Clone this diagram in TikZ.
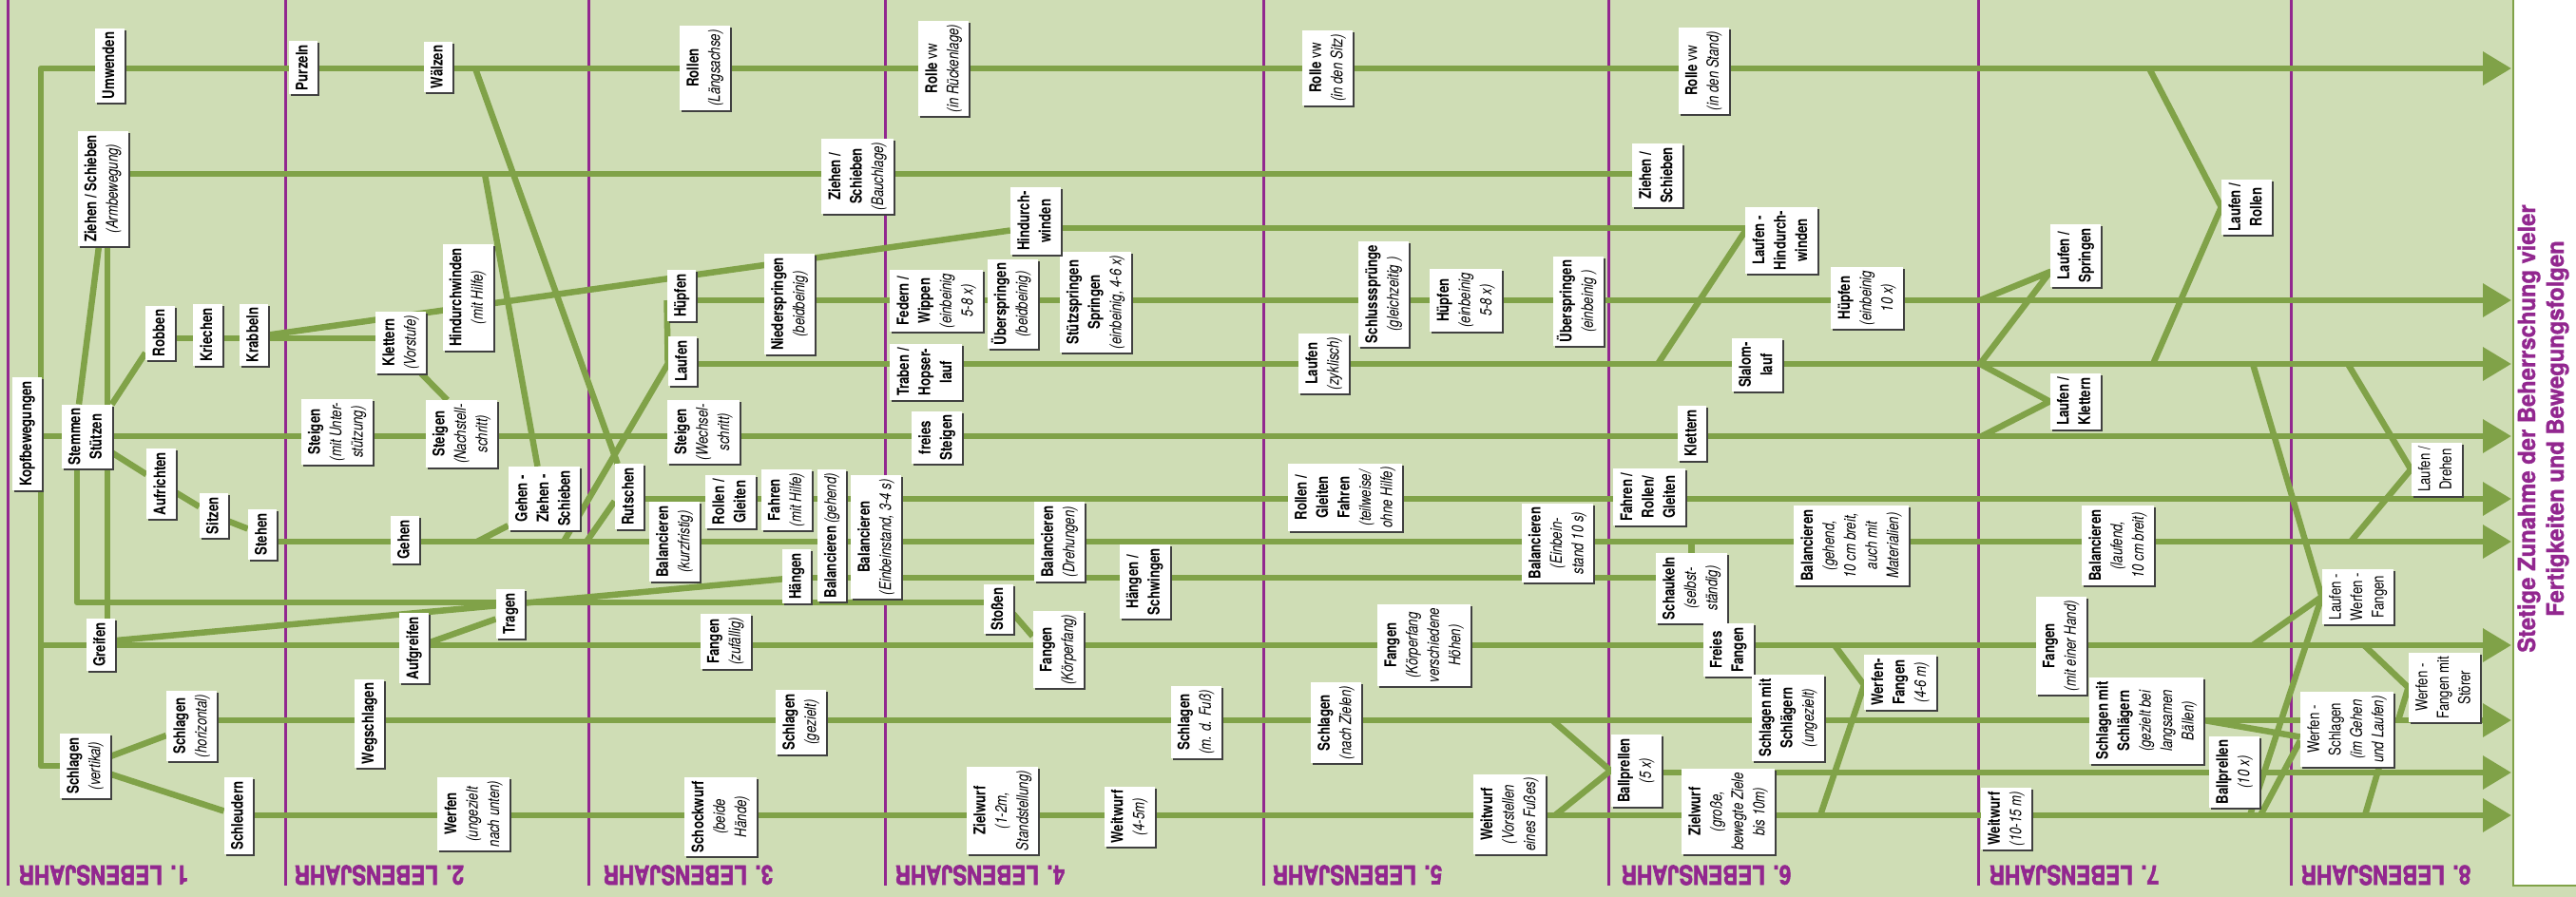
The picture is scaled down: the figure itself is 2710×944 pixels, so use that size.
\documentclass[tikz,border=0pt]{standalone}
\usepackage{fontspec}
\setmainfont{TeX Gyre Heros}[FakeStretch=0.78]
\newfontfamily\titlefont{TeX Gyre Heros}[FakeStretch=0.95,FakeBold=1.2]
\newfontfamily\yrfont{TeX Gyre Heros}[FakeStretch=0.8,FakeBold=2]
\usepackage{graphicx}
\usetikzlibrary{arrows.meta,shadows}
\definecolor{bgg}{RGB}{207,221,181}
\definecolor{lg}{RGB}{128,162,72}
\definecolor{pur}{RGB}{146,39,143}
\pgfdeclarelayer{bg}
\pgfdeclarelayer{ln}
\pgfsetlayers{bg,ln,main}
\def\kb#1{\textbf{#1}}
\def\ki#1{\textit{#1}}
\def\kbx#1{\rotatebox{90}{\begin{tabular}{@{}c@{}}#1\end{tabular}}}
\tikzset{
 box/.style={fill=white, inner xsep=4pt, inner ysep=4pt, font=\fontsize{17}{22.5}\selectfont,
   drop shadow={shadow xshift=2pt, shadow yshift=-2pt, opacity=1, fill=black!75}},
 gl/.style={draw=lg, line width=6.5pt, line join=round},
 arr/.style={gl, -{Triangle[length=30pt,width=34pt]}},
 yr/.style={text=pur, font=\yrfont\fontsize{28}{30}\selectfont\bfseries, rotate=180, inner sep=0pt},
 ttl/.style={text=pur, font=\titlefont\fontsize{25}{30}\selectfont\bfseries, inner sep=0pt},
 sep/.style={draw=pur, line width=3pt}
}
\begin{document}
\begin{tikzpicture}[x=1pt,y=-1pt]
\useasboundingbox (0,0) rectangle (2710,944);
\begin{pgfonlayer}{bg}
\fill[bgg] (0,0) rectangle (2710,944);
\filldraw[fill=white,draw=lg,line width=2pt] (2644,-3) rectangle (2713,932);
\foreach \x in {8,300,619,931,1329,1692,2081,2410} \draw[sep] (\x,0) -- (\x,932);
\end{pgfonlayer}

% helper coordinates
\coordinate (yA) at (0,72);
\coordinate (yB) at (0,183);
\coordinate (yC) at (0,240);
\coordinate (yD) at (0,316);
\coordinate (yE) at (0,383);
\coordinate (yR) at (0,356);
\coordinate (yG) at (0,525);
\coordinate (yH) at (0,570);
\coordinate (yI) at (0,608);
\coordinate (yL) at (0,758);
\coordinate (yM) at (0,813);
\coordinate (yN) at (0,858);
\coordinate (c0) at (43,72);
\coordinate (cV) at (43,806);
\coordinate (cF) at (43,459);
\coordinate (cK) at (43,679);
\coordinate (cJ) at (81,634);
\coordinate (tA) at (2642,72);
\coordinate (tD) at (2642,316);
\coordinate (tE) at (2642,383);
\coordinate (tF) at (2642,459);
\coordinate (tG) at (2642,525);
\coordinate (tH) at (2642,570);
\coordinate (tK) at (2642,679);
\coordinate (tL) at (2642,758);
\coordinate (tM) at (2642,813);
\coordinate (tN) at (2642,858);
\coordinate (wj) at (500,72);
\coordinate (bj) at (510,183);
\coordinate (gj) at (502,570);
\coordinate (lh) at (593,570);
\coordinate (c617) at (617,570);
\coordinate (c5L) at (1633,758);
\coordinate (c5N) at (1636,858);
\coordinate (c6E) at (1744,383);
\coordinate (c6K) at (1930,679);
\coordinate (c6N) at (1915,858);
\coordinate (c7D) at (2083,316);
\coordinate (c7E) at (2083,383);
\coordinate (c7F) at (2085,459);
\coordinate (c7A) at (2261,72);
\coordinate (c7E2) at (2265,383);
\coordinate (c7E3) at (2370,383);
\coordinate (c7K) at (2370,679);
\coordinate (c7N1) at (2367,858);
\coordinate (c7N2) at (2378,858);
\coordinate (c8E) at (2470,383);
\coordinate (c8H) at (2473,570);
\coordinate (c8K) at (2487,679);
\coordinate (c8L) at (2523,758);
\coordinate (c8N) at (2488,858);

% ---------- boxes ----------
\node[box] (umw) at (115.5,69) {\kbx{\kb{Umwenden}}};
\node[box] (zs1) at (108,198.5) {\kbx{\kb{Ziehen / Schieben}\\\ki{(Armbewegung)}}};
\node[box] (kopf) at (28.5,456.5) {\kbx{\kb{Kopfbewegungen}}};
\node[box] (stemmen) at (91,459.5) {\kbx{\kb{Stemmen}\\\kb{Stützen}}};
\node[box] (robben) at (168.5,350.5) {\kbx{\kb{Robben}}};
\node[box] (kriechen) at (218.5,352.5) {\kbx{\kb{Kriechen}}};
\node[box] (krabbeln) at (267,352.5) {\kbx{\kb{Krabbeln}}};
\node[box] (aufrichten) at (169.5,509) {\kbx{\kb{Aufrichten}}};
\node[box] (sitzen) at (225,542.5) {\kbx{\kb{Sitzen}}};
\node[box] (stehen) at (276,562.5) {\kbx{\kb{Stehen}}};
\node[box] (greifen) at (106,678.5) {\kbx{\kb{Greifen}}};
\node[box] (schlv) at (89.5,806) {\kbx{\kb{Schlagen}\\\ki{(vertikal)}}};
\node[box] (schlh) at (201.5,764) {\kbx{\kb{Schlagen}\\\ki{(horizontal)}}};
\node[box] (schleudern) at (251,858.5) {\kbx{\kb{Schleudern}}};
\node[box] (purzeln) at (319,71) {\kbx{\kb{Purzeln}}};
\node[box] (waelzen) at (461,70.5) {\kbx{\kb{Wälzen}}};
\node[box] (klettern1) at (421.5,360.5) {\kbx{\kb{Klettern}\\\ki{(Vorstufe)}}};
\node[box] (hind1) at (492,313) {\kbx{\kb{Hindurchwinden}\\\ki{(mit Hilfe)}}};
\node[box] (steigen1) at (354.5,454.5) {\kbx{\kb{Steigen}\\\ki{(mit Unter-}\\\ki{stützung)}}};
\node[box] (steigen2) at (485.5,456.5) {\kbx{\kb{Steigen}\\\ki{(Nachstell-}\\\ki{schritt)}}};
\node[box] (gehen) at (426,568) {\kbx{\kb{Gehen}}};
\node[box] (gzs) at (572.5,524.5) {\kbx{\kb{Gehen -}\\\kb{Ziehen -}\\\kb{Schieben}}};
\node[box] (tragen) at (537,646) {\kbx{\kb{Tragen}}};
\node[box] (aufgreifen) at (435.5,682) {\kbx{\kb{Aufgreifen}}};
\node[box] (wegschlagen) at (388.5,761.5) {\kbx{\kb{Wegschlagen}}};
\node[box] (werfen1) at (498,856.5) {\kbx{\kb{Werfen}\\\ki{(ungezielt}\\\ki{nach unten)}}};
\node[box] (rollen1) at (741.5,71.5) {\kbx{\kb{Rollen}\\\ki{(Längsachse)}}};
\node[box] (huepfen1) at (717,311) {\kbx{\kb{Hüpfen}}};
\node[box] (laufen1) at (718,380) {\kbx{\kb{Laufen}}};
\node[box] (steigen3) at (740,454.5) {\kbx{\kb{Steigen}\\\ki{(Wechsel-}\\\ki{schritt)}}};
\node[box] (nieder) at (830.5,320) {\kbx{\kb{Niederspringen}\\\ki{(beidbeinig)}}};
\node[box] (zs2) at (902,185.5) {\kbx{\kb{Ziehen /}\\\kb{Schieben}\\\ki{(Bauchlage)}}};
\node[box] (rutschen) at (662,522.5) {\kbx{\kb{Rutschen}}};
\node[box] (balk) at (709.5,570) {\kbx{\kb{Balancieren}\\\ki{(kurzfristig)}}};
\node[box] (rollgl) at (768.5,528) {\kbx{\kb{Rollen /}\\\kb{Gleiten}}};
\node[box] (fahren1) at (827,526) {\kbx{\kb{Fahren}\\\ki{(mit Hilfe)}}};
\node[box] (balg) at (875,563.5) {\kbx{\kb{Balancieren}\,\ki{(gehend)}}};
\node[box] (bale) at (921.5,565) {\kbx{\kb{Balancieren}\\\ki{(Einbeinstand, 3-4 s)}}};
\node[box] (haengen) at (838,606.5) {\kbx{\kb{Hängen}}};
\node[box] (fangen1) at (763,675) {\kbx{\kb{Fangen}\\\ki{(zufällig)}}};
\node[box] (schlg) at (842.5,760) {\kbx{\kb{Schlagen}\\\ki{(gezielt)}}};
\node[box] (schock) at (758,859.5) {\kbx{\kb{Schockwurf}\\\ki{(beide}\\\ki{Hände)}}};
\node[box] (rolle1) at (992.5,72) {\kbx{\kb{Rolle} vw\\\ki{(in Rückenlage)}}};
\node[box] (federn) at (985,316.5) {\kbx{\kb{Federn /}\\\kb{Wippen}\\\ki{(einbeinig}\\\ki{5-8 x)}}};
\node[box] (ueber1) at (1065,320) {\kbx{\kb{Überspringen}\\\ki{(beidbeinig)}}};
\node[box] (stuetz) at (1152.5,318) {\kbx{\kb{Stützspringen}\\\kb{Springen}\\\ki{(einbeinig, 4-6 x)}}};
\node[box] (hind2) at (1089.5,232.5) {\kbx{\kb{Hindurch-}\\\kb{winden}}};
\node[box] (traben) at (974,391.5) {\kbx{\kb{Traben /}\\\kb{Hopser-}\\\kb{lauf}}};
\node[box] (freies) at (985.5,460.5) {\kbx{\kb{freies}\\\kb{Steigen}}};
\node[box] (baldreh) at (1114.5,570) {\kbx{\kb{Balancieren}\\\ki{(Drehungen)}}};
\node[box] (haengsch) at (1204,612) {\kbx{\kb{Hängen /}\\\kb{Schwingen}}};
\node[box] (stossen) at (1050.5,641) {\kbx{\kb{Stoßen}}};
\node[box] (fangen2) at (1113,683.5) {\kbx{\kb{Fangen}\\\ki{(Körperfang)}}};
\node[box] (schlfuss) at (1258,760) {\kbx{\kb{Schlagen}\\\ki{(m. d. Fuß)}}};
\node[box] (zielw1) at (1054.5,853) {\kbx{\kb{Zielwurf}\\\ki{(1-2m,}\\\ki{Standstellung)}}};
\node[box] (weitw1) at (1188,859.5) {\kbx{\kb{Weitwurf}\\\ki{(4-5m)}}};
\node[box] (rolle2) at (1396.5,71.5) {\kbx{\kb{Rolle} vw\\\ki{(in den Sitz)}}};
\node[box] (schluss) at (1455.5,309.5) {\kbx{\kb{Schlusssprünge}\\\ki{(gleichzeitig )}}};
\node[box] (huepfen2) at (1542,316) {\kbx{\kb{Hüpfen}\\\ki{(einbeinig}\\\ki{5-8 x)}}};
\node[box] (ueber2) at (1660,317) {\kbx{\kb{Überspringen}\\\ki{(einbeinig )}}};
\node[box] (laufen2) at (1392.5,382.5) {\kbx{\kb{Laufen}\\\ki{(zyklisch)}}};
\node[box] (rgf) at (1415,523.5) {\kbx{\kb{Rollen /}\\\kb{Gleiten}\\\kb{Fahren}\\\ki{(teilweise/}\\\ki{ohne Hilfe)}}};
\node[box] (bal10) at (1638.5,571.5) {\kbx{\kb{Balancieren}\\\ki{(Einbein-}\\\ki{stand 10 s)}}};
\node[box] (fangen3) at (1498,679) {\kbx{\kb{Fangen}\\\ki{(Körperfang}\\\ki{verschiedene}\\\ki{Höhen)}}};
\node[box] (schlziel) at (1405.5,760.5) {\kbx{\kb{Schlagen}\\\ki{(nach Zielen)}}};
\node[box] (weitw2) at (1588,857) {\kbx{\kb{Weitwurf}\\\ki{(Vorstellen}\\\ki{eines Fußes)}}};
\node[box] (rolle3) at (1792,74.5) {\kbx{\kb{Rolle} vw\\\ki{(in den Stand)}}};
\node[box] (zs3) at (1743.5,184.5) {\kbx{\kb{Ziehen /}\\\kb{Schieben}}};
\node[box] (lhind) at (1874,253) {\kbx{\kb{Laufen -}\\\kb{Hindurch-}\\\kb{winden}}};
\node[box] (huepfen3) at (1964,313.5) {\kbx{\kb{Hüpfen}\\\ki{(einbeinig}\\\ki{10 x)}}};
\node[box] (slalom) at (1848.5,384) {\kbx{\kb{Slalom-}\\\kb{lauf}}};
\node[box] (klettern2) at (1780,456) {\kbx{\kb{Klettern}}};
\node[box] (frg) at (1735,523) {\kbx{\kb{Fahren /}\\\kb{Rollen/}\\\kb{Gleiten}}};
\node[box] (schaukeln) at (1779.5,619) {\kbx{\kb{Schaukeln}\\\ki{(selbst-}\\\ki{ständig)}}};
\node[box] (balg10) at (1947.5,574) {\kbx{\kb{Balancieren}\\\ki{(gehend,}\\\ki{10 cm breit,}\\\ki{auch mit}\\\ki{Materialien)}}};
\node[box] (freiesf) at (1818,684) {\kbx{\kb{Freies}\\\kb{Fangen}}};
\node[box] (wf) at (1999,718) {\kbx{\kb{Werfen-}\\\kb{Fangen}\\\ki{(4-6 m)}}};
\node[box] (sms1) at (1881,755.5) {\kbx{\kb{Schlagen mit}\\\kb{Schlägern}\\\ki{(ungezielt)}}};
\node[box] (ball1) at (1721,811) {\kbx{\kb{Ballprellen}\\\ki{(5 x)}}};
\node[box] (zielw2) at (1818,854) {\kbx{\kb{Zielwurf}\\\ki{(große,}\\\ki{bewegte Ziele}\\\ki{bis 10m)}}};
\node[box] (lspr) at (2183.5,269) {\kbx{\kb{Laufen /}\\\kb{Springen}}};
\node[box] (lklet) at (2183,422.5) {\kbx{\kb{Laufen /}\\\kb{Klettern}}};
\node[box] (lroll) at (2363.5,218) {\kbx{\kb{Laufen /}\\\kb{Rollen}}};
\node[box] (balla) at (2228,574) {\kbx{\kb{Balancieren}\\\ki{(laufend,}\\\ki{10 cm breit)}}};
\node[box] (fangen4) at (2168,679.5) {\kbx{\kb{Fangen}\\\ki{(mit einer Hand)}}};
\node[box] (sms2) at (2258,758.5) {\kbx{\kb{Schlagen mit}\\\kb{Schlägern}\\\ki{(gezielt bei}\\\ki{langsamen}\\\ki{Bällen)}}};
\node[box] (ball2) at (2350.5,812.5) {\kbx{\kb{Ballprellen}\\\ki{(10 x)}}};
\node[box] (weitw3) at (2110.5,861.5) {\kbx{\kb{Weitwurf}\\\ki{(10-15 m)}}};
\node[box] (ldreh) at (2563,494) {\kbx{Laufen /\\Drehen}};
\node[box] (lwf) at (2480.5,628) {\kbx{Laufen -\\Werfen -\\Fangen}};
\node[box] (wfms) at (2571.5,723.5) {\kbx{Werfen -\\Fangen mit\\Störer}};
\node[box] (ws) at (2469,767.5) {\kbx{Werfen -\\Schlagen\\\ki{(im Gehen}\\\ki{und Laufen)}}};

% ---------- year labels ----------
\node[yr] (j1) at (109,921) {1. LEBENSJAHR};
\node[yr] (j2) at (399,921) {2. LEBENSJAHR};
\node[yr] (j3) at (724,921) {3. LEBENSJAHR};
\node[yr] (j4) at (1031,921) {4. LEBENSJAHR};
\node[yr] (j5) at (1428,921) {5. LEBENSJAHR};
\node[yr] (j6) at (1795,921) {6. LEBENSJAHR};
\node[yr] (j7) at (2182,921) {7. LEBENSJAHR};
\node[yr] (j8) at (2510,921) {8. LEBENSJAHR};
\node[ttl] (title) at (2676,451) {\rotatebox{90}{\begin{tabular}{@{}c@{}}Stetige Zunahme der Beherrschung vieler\\Fertigkeiten und Bewegungsfolgen\end{tabular}}};

% ---------- connectors ----------
\begin{pgfonlayer}{ln}
\draw[arr] (schlv) -- (cV) -- (c0) -- (tA);
\draw[arr] (cF) -- (tF);
\draw[arr] (cK) -- (tK);
\draw[gl] (zs1 |- yB) -- (zs3 |- yB);
\draw[gl] (hind2 |- yC) -- (lhind |- yC);
\draw[arr] (huepfen1 |- yD) -- (tD);
\draw[arr] (laufen1 |- yE) -- (tE);
\draw[arr] (rutschen |- yG) -- (tG);
\draw[arr] (stehen |- yH) -- (tH);
\draw[gl] (haengen |- yI) -- (schaukeln |- yI);
\draw[gl] ([xshift=-10pt]stemmen.south) -- (cJ) -- (stossen |- cJ);
\draw[arr] (schlh |- yL) -- (tL);
\draw[arr] (ball1 |- yM) -- (tM);
\draw[arr] (schleudern |- yN) -- (tN);
% year 1
\draw[gl] ([xshift=-8pt]stemmen.north) -- ([xshift=-4pt]zs1.south);
\draw[gl] ([xshift=5pt]zs1.south) -- ([xshift=7pt]greifen.north);
\draw[gl] (stemmen.north east) -- ([yshift=8pt]robben.south west);
\draw[gl] (robben |- yR) -- (klettern1 |- yR);
\draw[gl] (krabbeln.east) -- ([yshift=-10pt]hind2.west);
\draw[gl] (stemmen) -- (aufrichten) -- (sitzen) -- (stehen);
\draw[gl] ([yshift=3pt]greifen.center) -- ([yshift=10pt]tragen.center);
\draw[gl] (aufgreifen) -- (tragen);
\draw[gl] ([yshift=10pt]tragen.center) -- (haengen |- yI);
\draw[gl] (schlv) -- (schlh);
\draw[gl] (schlv) -- (schleudern);
% year 2/3
\draw[gl] ([xshift=-5pt]klettern1.south east) -- ([xshift=-15pt]steigen2.north);
\draw[gl] (wj) -- (rutschen);
\draw[gl] (bj) -- ([xshift=-7pt]gzs.north);
\draw[gl] (gj) -- ([yshift=5pt]gzs.south west);
\draw[gl] (lh) -- (laufen1.west |- yE) -- (huepfen1.west |- yD);
\draw[gl] ([yshift=-5pt]rutschen.west) -- (c617);
% year 4
\draw[gl] ([yshift=-5pt]stossen.east) -- ([yshift=14pt]fangen2.west);
% year 5/6
\draw[gl] (c5L) -- (ball1.west) -- (c5N);
\draw[gl] (schaukeln.center) -- (schaukeln.center |- yH);
\draw[gl] (c6E) -- ([yshift=10pt]lhind.west);
\draw[gl] (c6K) -- ([yshift=-3pt]wf.west) -- (c6N);
% year 7
\draw[gl] (c7D) -- ([yshift=-17pt]lspr.west) -- (c7E);
\draw[gl] (c7E) -- (lklet.west) -- (c7F);
\draw[gl] (c7A) -- (lroll.west) -- (c7E2);
\draw[gl] (c7E3) -- (lwf.west) -- (c7K);
\draw[gl] (lwf.west) -- (c7N1);
\draw[gl] (sms2.east |- yL) -- ([yshift=-8pt]ws.west);
\draw[gl] (c7N2) -- ([yshift=-12pt]ws.west);
% year 8
\draw[gl] (c8E) -- (ldreh.west) -- (c8H);
\draw[gl] (c8K) -- (wfms.west) -- (c8L);
\draw[gl] ([xshift=34pt]ws.south) -- (c8N);
\end{pgfonlayer}
\end{tikzpicture}
\end{document}
